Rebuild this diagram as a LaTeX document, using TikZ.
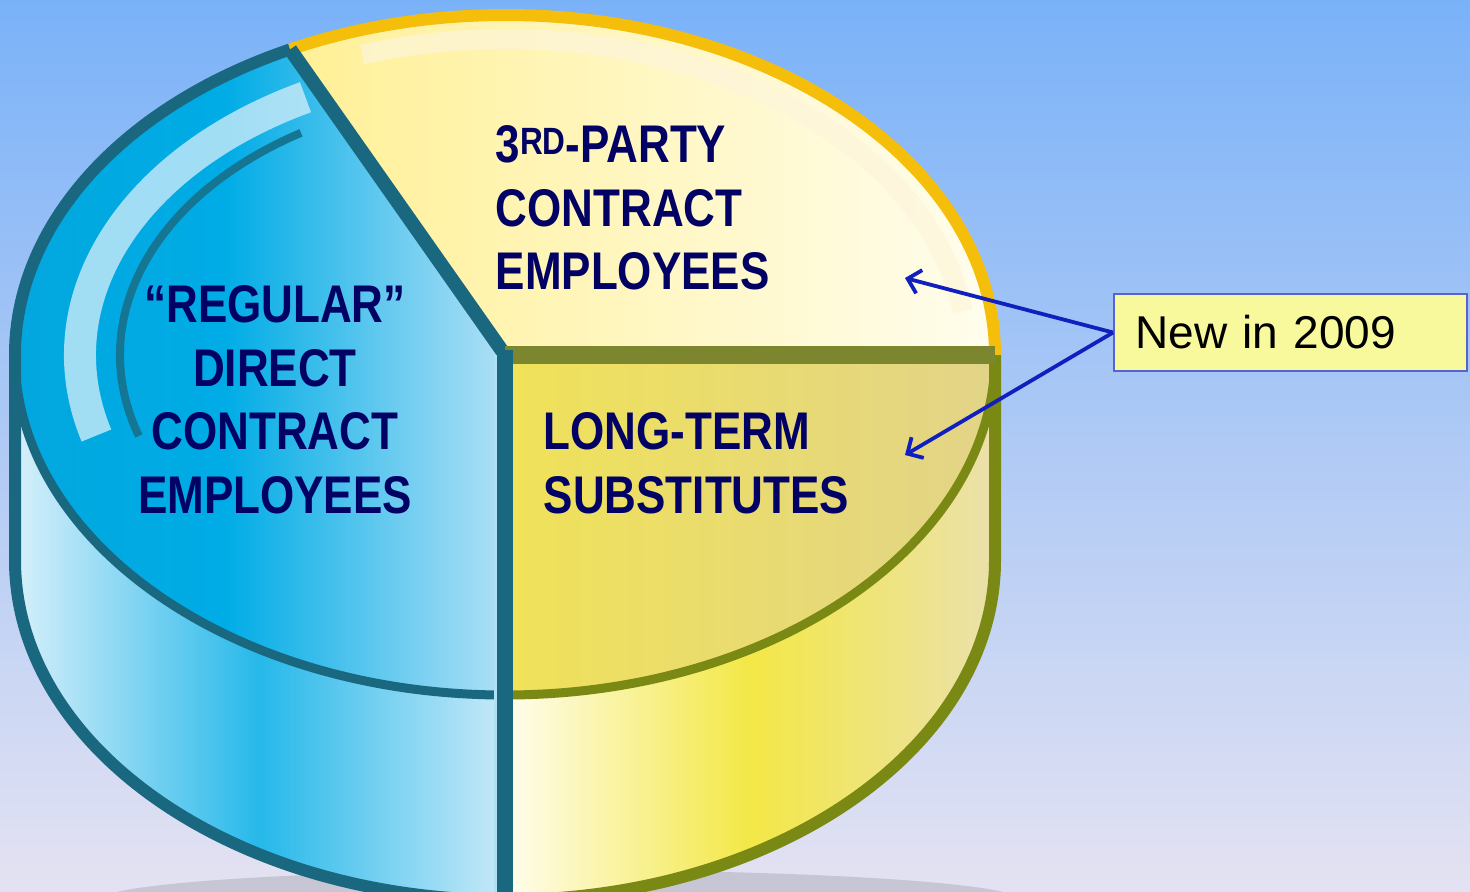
\documentclass[tikz,border=0pt]{standalone}
\usepackage{fontspec}
\setmainfont{Liberation Sans}
\newfontfamily\slicefont[FakeStretch=0.83]{Liberation Sans}
\usetikzlibrary{arrows.meta}

\definecolor{bgtop}{RGB}{122,178,248}
\definecolor{bgbot}{RGB}{228,226,242}
\definecolor{navy}{RGB}{2,2,100}
\definecolor{cyanfill}{RGB}{0,172,230}
\definecolor{cyanlight}{RGB}{176,224,246}
\definecolor{tealrim}{RGB}{26,104,128}
\definecolor{paleyellow}{RGB}{255,240,150}
\definecolor{creamy}{RGB}{255,253,238}
\definecolor{goldrim}{RGB}{244,190,10}
\definecolor{sunyellow}{RGB}{240,226,88}
\definecolor{dullyellow}{RGB}{226,212,136}
\definecolor{oliverim}{RGB}{122,136,20}
\definecolor{notefill}{RGB}{248,248,156}
\definecolor{arrowblue}{RGB}{16,32,190}

\tikzset{every picture/.style={line width=0.75pt}}
\tikzset{
  slicetext/.style={text=navy, inner sep=0pt,
    font=\slicefont\bfseries\fontsize{26.5}{31.75}\selectfont},
  notebox/.style={draw=arrowblue!70, fill=notefill, line width=0.8pt,
    minimum height=38.5pt, text width=155pt, inner xsep=10.75pt,
    align=left, font=\fontsize{23}{26}\selectfont},
  pointer/.style={draw=arrowblue, line width=1.9pt,
    -{Straight Barb[length=6pt,width=12pt]}},
  topface/.style={x radius=490, y radius=340}
}

\begin{document}
\begin{tikzpicture}[x=0.5pt,y=0.5pt,yscale=-1,xscale=1]
\useasboundingbox (0,0) rectangle (1470,891);
% background
\fill[top color=bgtop, bottom color=bgbot] (0,0) rectangle (1470,891);
% shadow under the pie
\fill[black, opacity=0.12] (560,900) ellipse [x radius=460, y radius=30];

% side of the pie, blue half
\path[left color=cyanlight!50!white, right color=cyanlight!70!white, middle color=cyanfill!85!white]
  (15,355) -- (15,560) arc[start angle=180, end angle=90, topface]
  -- (505,695) arc[start angle=90, end angle=180, topface] -- cycle;
% side of the pie, yellow half
\path[left color=creamy, right color=dullyellow!70!white, middle color=sunyellow!80!yellow]
  (505,695) -- (505,900) arc[start angle=90, end angle=0, topface]
  -- (995,355) arc[start angle=0, end angle=90, topface] -- cycle;

% top face: blue slice
\path[left color=cyanfill!90!tealrim, right color=cyanlight, middle color=cyanfill]
  (505,355) -- (290.2,49.4) arc[start angle=-116, end angle=-270, topface] -- cycle;
% top face: upper yellow slice
\path[left color=paleyellow, right color=creamy]
  (505,355) -- (995,355) arc[start angle=0, end angle=-116, topface] -- cycle;
% top face: lower yellow slice
\path[left color=sunyellow, right color=dullyellow]
  (505,355) -- (505,695) arc[start angle=90, end angle=0, topface] -- cycle;

% bevel rings
\draw[cyanlight!50!white, line width=16pt, opacity=0.75]
  (505,355) ++(-118:425 and 292) arc[start angle=-118, end angle=-196, x radius=425, y radius=292];
\draw[tealrim!80!cyanfill, line width=4pt]
  (505,355) ++(-122:385 and 262) arc[start angle=-122, end angle=-198, x radius=385, y radius=262];
\draw[goldrim!15!white, line width=10pt, opacity=0.7]
  (505,355) ++(-108:462 and 316) arc[start angle=-108, end angle=-8, x radius=462, y radius=316];

% rims
\draw[tealrim, line width=6pt]
  (290.2,49.4) arc[start angle=-116, end angle=-180, topface] -- (15,560)
  arc[start angle=180, end angle=90, x radius=490, y radius=340];
\draw[goldrim, line width=6pt]
  (995,355) arc[start angle=0, end angle=-116, topface];
\draw[oliverim, line width=6pt]
  (995,355) -- (995,560) arc[start angle=0, end angle=90, topface];
\draw[tealrim, line width=4.5pt]
  (15,355) arc[start angle=180, end angle=90, topface];
\draw[oliverim, line width=4.5pt]
  (505,695) arc[start angle=90, end angle=0, topface];

% dividers
\draw[tealrim, line width=7pt] (505,355) -- (290.2,49.4);
\draw[oliverim!75!gray, line width=9pt] (505,355) -- (995,355);
\draw[tealrim, line width=8pt] (505,350) -- (505,900);
\draw[cyanlight, line width=1.5pt] (495,355) -- (495,900);

% slice labels
\node[slicetext, anchor=north west, align=left] (thirdparty) at (495,125)
  {3\raisebox{0.3ex}{\fontsize{19}{19}\selectfont RD}-PARTY\\CONTRACT\\EMPLOYEES};
\node[slicetext, anchor=north, align=center] (regular) at (275,285)
  {“REGULAR”\\DIRECT\\CONTRACT\\EMPLOYEES};
\node[slicetext, anchor=north west, align=left] (longterm) at (543,412)
  {LONG-TERM\\SUBSTITUTES};

% note box and pointers
\node[notebox, anchor=west] (newbox) at (1113,332.5) {New in 2009};
\coordinate (tipA) at (905,278);
\coordinate (tipB) at (905,455);
\draw[pointer] (newbox.west) -- (tipA);
\draw[pointer] (newbox.west) -- (tipB);
\end{tikzpicture}
\end{document}
